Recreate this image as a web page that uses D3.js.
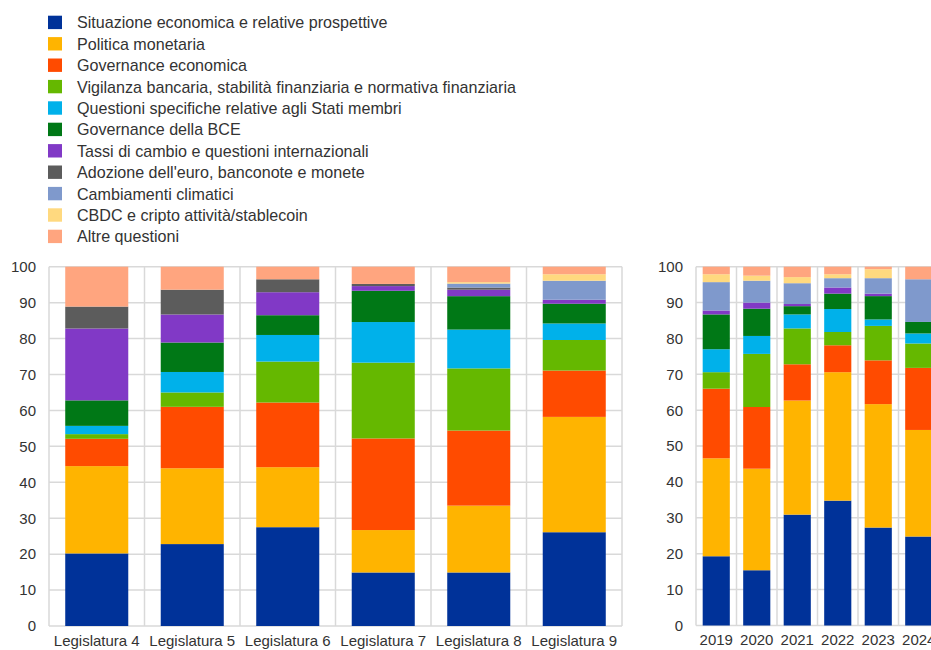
<!DOCTYPE html>
<html>
<head>
<meta charset="utf-8">
<script src="https://cdn.jsdelivr.net/npm/d3@7"></script>
<style>
  html, body { margin: 0; padding: 0; background: #fff; }
  svg { display: block; font-family: "Liberation Sans", Arial, sans-serif; }
</style>
</head>
<body>
<svg id="chart" width="931" height="650"></svg>
<script>
// Series (legend order = stacking order from bottom)
const seriesNames = [
  "Situazione economica e relative prospettive",
  "Politica monetaria",
  "Governance economica",
  "Vigilanza bancaria, stabilità finanziaria e normativa finanziaria",
  "Questioni specifiche relative agli Stati membri",
  "Governance della BCE",
  "Tassi di cambio e questioni internazionali",
  "Adozione dell'euro, banconote e monete",
  "Cambiamenti climatici",
  "CBDC e cripto attività/stablecoin",
  "Altre questioni"
];
const seriesColors = ["#003299", "#FFB400", "#FF4B00", "#65B800", "#00B1EA", "#007816",
                      "#8139C6", "#5C5C5C", "#7F99CC", "#FFD97F", "#FFA57F"];

// Left panel categories
const legislature = ["Legislatura 4", "Legislatura 5", "Legislatura 6", "Legislatura 7", "Legislatura 8", "Legislatura 9"];
// Values per bar, in series order
const leg4 = [20.2, 24.3, 7.6, 1.3, 2.3, 7.1, 20.0, 6.1, 0, 0, 11.1];
const leg5 = [22.8, 21.1, 17.1, 4.0, 5.7, 8.2, 7.8, 6.9, 0, 0, 6.4];
const leg6 = [27.5, 16.7, 18.0, 11.4, 7.4, 5.5, 6.4, 3.6, 0, 0, 3.5];
const leg7 = [14.9, 11.8, 25.5, 21.1, 11.3, 8.7, 1.3, 0.6, 0, 0, 4.8];
const leg8 = [14.9, 18.6, 20.9, 17.3, 10.8, 9.3, 1.8, 0.6, 1.1, 0.4, 4.3];
const leg9 = [26.1, 32.1, 12.9, 8.5, 4.6, 5.5, 1.1, 0, 5.3, 1.8, 2.1];

// Right panel categories
const years = ["2019", "2020", "2021", "2022", "2023", "2024"];
const y2019 = [19.3, 27.3, 19.4, 4.6, 6.4, 9.7, 1.1, 0, 7.9, 2.2, 2.1];
const y2020 = [15.4, 28.3, 17.2, 14.8, 5.0, 7.6, 1.7, 0, 6.1, 1.4, 2.5];
const y2021 = [30.9, 31.8, 10.1, 10.0, 3.9, 2.3, 0.6, 0, 5.8, 1.7, 2.9];
const y2022 = [34.8, 35.8, 7.5, 3.7, 6.4, 4.3, 1.7, 0, 2.6, 1.1, 2.1];
const y2023 = [27.3, 34.4, 12.2, 9.6, 1.8, 6.5, 0.7, 0, 4.3, 2.5, 0.7];
const y2024 = [24.8, 29.7, 17.3, 6.8, 2.8, 3.2, 0, 0, 11.9, 0, 3.5];

const yTicks = [0, 10, 20, 30, 40, 50, 60, 70, 80, 90, 100];

const svg = d3.select("#chart");
const gridColor = "#d9d9d9";
const textColor = "#333333";

function buildRows(cats, bars) {
  return cats.map((c, i) => {
    const row = { cat: c };
    seriesNames.forEach((s, j) => { row[s] = bars[i][j]; });
    return row;
  });
}

function drawPanel(cats, bars, x0, x1, top, bottom, padding) {
  const g = svg.append("g");
  const x = d3.scaleBand().domain(cats).range([x0, x1]).paddingInner(padding).paddingOuter(padding / 2);
  const xb = d3.scaleBand().domain(cats).range([x0, x1]);
  const y = d3.scaleLinear().domain([0, 100]).range([bottom, top]);

  // horizontal gridlines
  g.append("g").selectAll("line").data(yTicks).join("line")
    .attr("x1", x0).attr("x2", x1)
    .attr("y1", d => y(d)).attr("y2", d => y(d))
    .attr("stroke", gridColor).attr("stroke-width", 1.5);
  // vertical gridlines at category boundaries
  const bounds = cats.map(c => xb(c)).concat([x1]);
  g.append("g").selectAll("line").data(bounds).join("line")
    .attr("x1", d => d).attr("x2", d => d)
    .attr("y1", y(100)).attr("y2", y(0))
    .attr("stroke", gridColor).attr("stroke-width", 1.5);

  const rows = buildRows(cats, bars);
  const stack = d3.stack().keys(seriesNames)(rows);
  g.append("g").selectAll("g").data(stack).join("g")
    .attr("fill", (d, i) => seriesColors[i])
    .selectAll("rect").data(d => d).join("rect")
    .attr("x", d => x(d.data.cat))
    .attr("width", x.bandwidth())
    .attr("y", d => y(d[1]))
    .attr("height", d => Math.max(0, y(d[0]) - y(d[1])));

  // y axis labels
  const yAxis = d3.axisLeft(y).tickValues(yTicks).tickSize(0).tickPadding(13);
  const ya = g.append("g").attr("transform", `translate(${x0},0)`).call(yAxis);
  ya.select(".domain").remove();
  ya.selectAll("text").attr("fill", textColor).attr("font-size", 15)
    .attr("font-family", "'Liberation Sans', Arial, sans-serif");

  // x axis labels
  const xAxis = d3.axisBottom(xb).tickSize(0).tickPadding(9);
  const xa = g.append("g").attr("transform", `translate(0,${bottom})`).call(xAxis);
  xa.select(".domain").remove();
  xa.selectAll("text").attr("fill", textColor).attr("font-size", 15)
    .attr("font-family", "'Liberation Sans', Arial, sans-serif");
}

drawPanel(legislature, [leg4, leg5, leg6, leg7, leg8, leg9], 49, 622, 266.7, 626, 0.34);
drawPanel(years, [y2019, y2020, y2021, y2022, y2023, y2024], 696, 939, 266.7, 625.5, 0.33);

// Legend
const legend = svg.append("g");
const rowH = 21.4;
const items = legend.selectAll("g").data(seriesNames).join("g")
  .attr("transform", (d, i) => `translate(48, ${22.4 + i * rowH})`);
items.append("rect").attr("x", 0).attr("y", -6.7).attr("width", 14).attr("height", 13.4)
  .attr("fill", (d, i) => seriesColors[i]);
items.append("text").attr("x", 29).attr("y", 5.9)
  .attr("font-size", 16.1).attr("fill", textColor)
  .text(d => d);
</script>
</body>
</html>
